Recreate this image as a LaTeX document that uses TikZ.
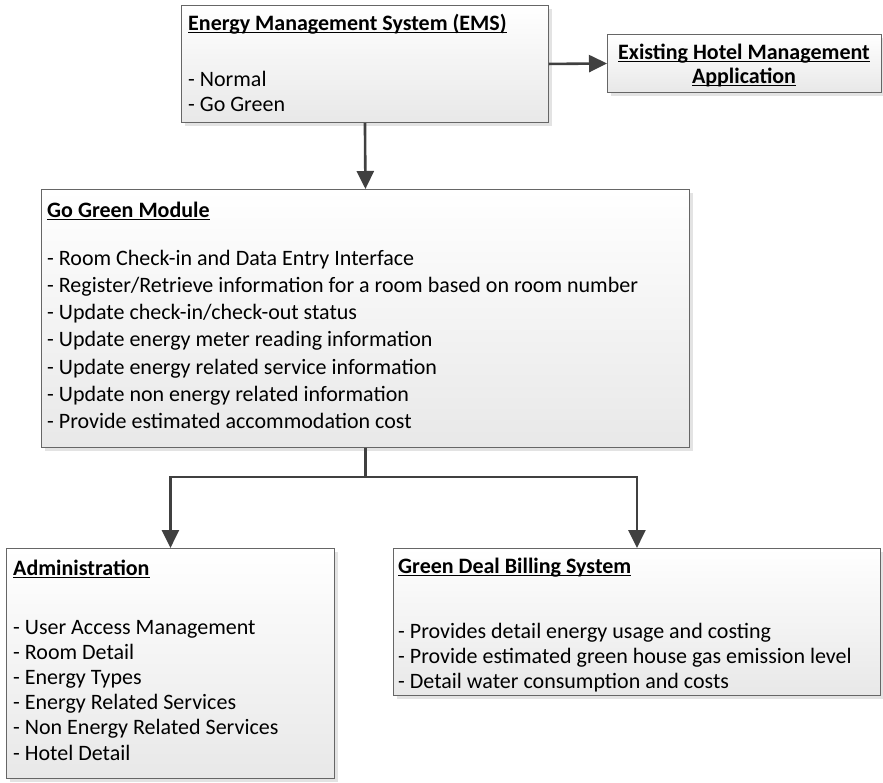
\documentclass[tikz,border=0pt]{standalone}
\usepackage{fontspec}
\setmainfont{Carlito}
\usetikzlibrary{arrows.meta,shadows}

\tikzset{
  box/.style={draw=black!60, line width=0.9pt, top color=white, bottom color=black!9,
    drop shadow={shadow xshift=4pt, shadow yshift=-4pt, fill=black!11, opacity=1},
    anchor=north west, inner sep=0pt},
  txt/.style={anchor=base west, inner sep=0pt, font=\fontsize{22}{26}\selectfont},
  wire/.style={draw=black!75, line width=2.6pt},
  link/.style={wire, -{Triangle[length=18pt,width=17pt]}},
}
\newcommand{\boxtitle}[1]{\setbox0\hbox{\textbf{#1}}\rlap{\rule[-3.4pt]{\wd0}{1.5pt}}\box0}

\begin{document}
\begin{tikzpicture}[x=1pt,y=-1pt]
  \useasboundingbox (0,0) rectangle (883,782);

  % boxes
  \node[box, minimum width=367pt, minimum height=117pt] (ems) at (181,5) {};
  \node[box, minimum width=274pt, minimum height=58pt] (hotel) at (607,34) {};
  \node[box, minimum width=648pt, minimum height=258pt] (gogreen) at (41,189) {};
  \node[box, minimum width=328pt, minimum height=230pt] (admin) at (6,548) {};
  \node[box, minimum width=487pt, minimum height=147pt] (billing) at (393,548) {};

  % texts
  \node[txt] (ems-title) at (188,30) {\boxtitle{Energy Management System (EMS)}};
  \foreach \t [count=\i] in {Normal, Go Green}
    \node[txt] (ems-\i) at (188,{86+25*(\i-1)}) {- \t};

  \node[txt, anchor=base] (hotel-1) at (744,59) {\boxtitle{Existing Hotel Management}};
  \node[txt, anchor=base] (hotel-2) at (744,83) {\boxtitle{Application}};

  \node[txt] (gogreen-title) at (47,217) {\boxtitle{Go Green Module}};
  \foreach \t [count=\i] in {Room Check-in and Data Entry Interface,
      Register/Retrieve information for a room based on room number,
      Update check-in/check-out status,
      Update energy meter reading information,
      Update energy related service information,
      Update non energy related information,
      Provide estimated accommodation cost}
    \node[txt] (gogreen-\i) at (47,{265+27.3*(\i-1)}) {- \t};

  \node[txt] (admin-title) at (13,575) {\boxtitle{Administration}};
  \foreach \t [count=\i] in {User Access Management, Room Detail, Energy Types,
      Energy Related Services, Non Energy Related Services, Hotel Detail}
    \node[txt] (admin-\i) at (13,{634+25.2*(\i-1)}) {- \t};

  \node[txt] (billing-title) at (398,573) {\boxtitle{Green Deal Billing System}};
  \foreach \t [count=\i] in {Provides detail energy usage and costing,
      Provide estimated green house gas emission level,
      Detail water consumption and costs}
    \node[txt] (billing-\i) at (398,{638+25*(\i-1)}) {- \t};

  % connectors
  \draw[link] (ems.east) -- (hotel.west);
  \draw[link] (ems.south) -- (gogreen.north);
  \coordinate (split) at ([yshift=-29pt]gogreen.south);
  \draw[wire] (gogreen.south) -- (split);
  \foreach \n in {admin, billing}
    \draw[link] (split) -| (\n.north);
\end{tikzpicture}
\end{document}
